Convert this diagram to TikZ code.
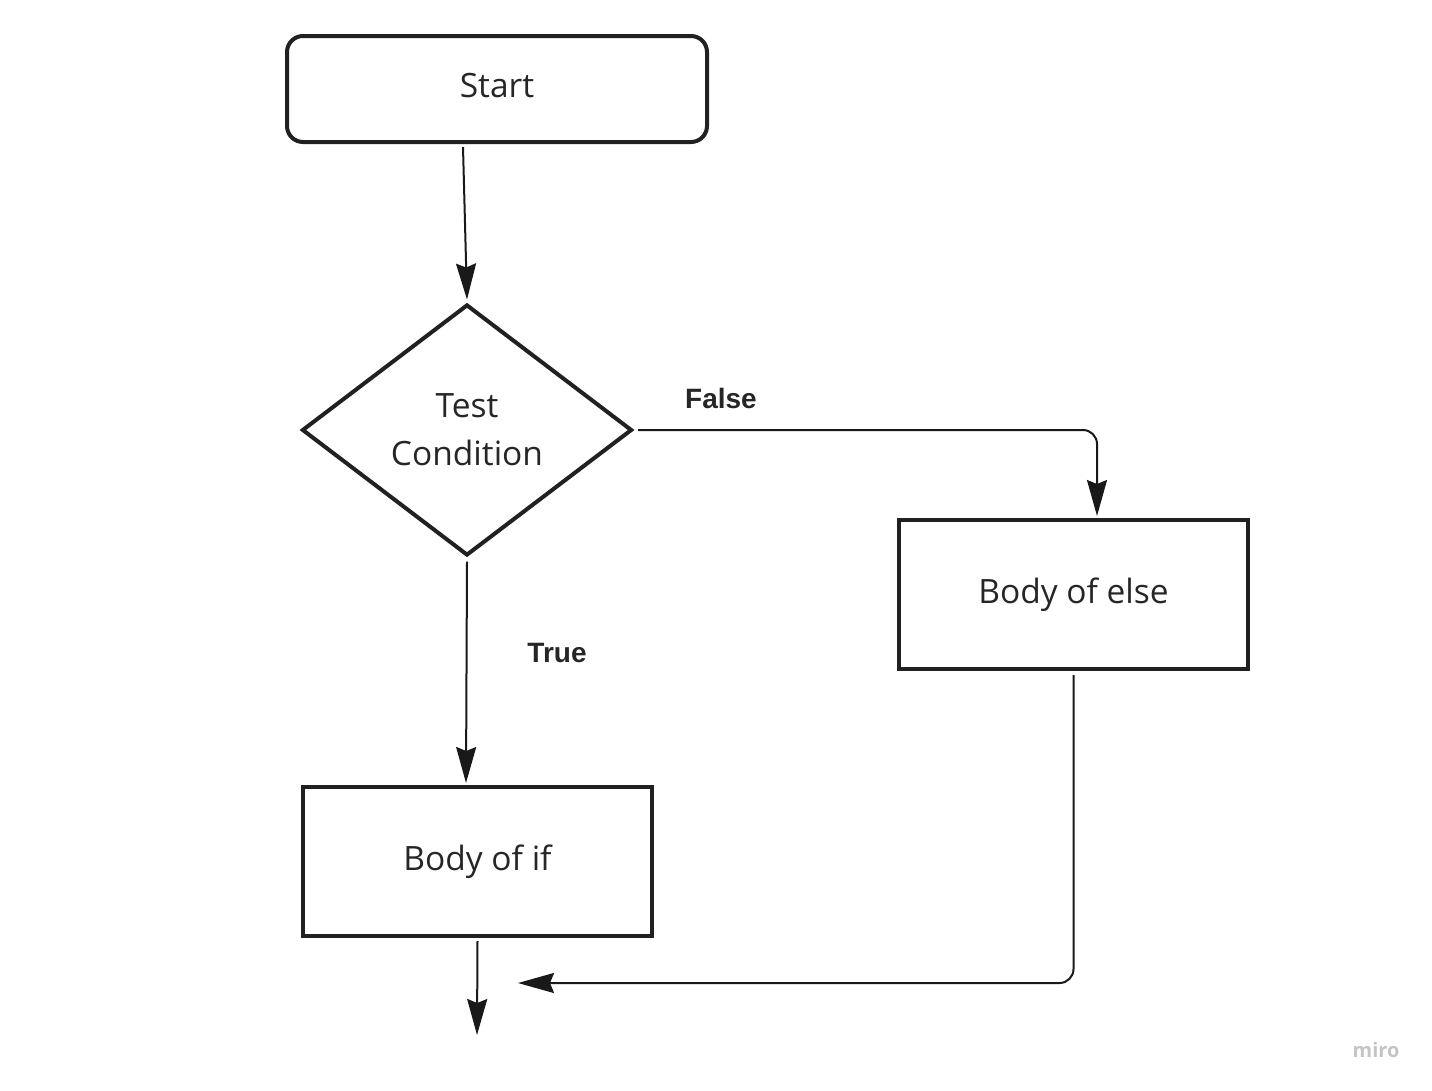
\documentclass[tikz,border=0pt]{standalone}
\usepackage{fontspec}
\setmainfont{Open Sans}
\newfontfamily\arialfont{Liberation Sans}
\usetikzlibrary{shapes.geometric,arrows.meta,positioning}

\begin{document}
\begin{tikzpicture}[x=1pt,y=-1pt,
        box/.style={draw=black!87,line width=4pt,minimum width=349pt,minimum height=149pt,
            text=black!85,font=\fontsize{33.5}{48}\selectfont},
        startbox/.style={box,rounded corners=16pt,minimum width=420pt,minimum height=106pt,text depth=8pt},
        decision/.style={box,diamond,minimum width=330pt,minimum height=251pt,inner sep=0pt,align=center},
        flow/.style={line width=2pt,draw=black!90,-{Stealth[length=36pt,width=20pt,inset=4pt]}},
        branch/.style={text=black!85,font=\arialfont\bfseries\fontsize{28}{32}\selectfont}]
        \useasboundingbox (0,0) rectangle (1432,1090);
        % the blocks
        \node[startbox] (start) at (497,89) {Start};
        \node[decision] (cond) at (467,430) {Test\\Condition};
        \node[box] (else) at (1073.5,594.5) {Body of else};
        \node[box] (if) at (477.5,861.5) {Body of if};
        \coordinate (merge) at (518,983);
        \coordinate (stop) at (477,1035);
        % the connectors
        \draw[flow] ([xshift=-34pt,yshift=-3pt]start.south) -- ([yshift=3pt]cond.north);
        \draw[flow,rounded corners=14pt] ([xshift=4pt]cond.east) -| ([xshift=23.5pt,yshift=2pt]else.north);
        \draw[flow] ([yshift=-4pt]cond.south) -- ([xshift=-11.5pt,yshift=2pt]if.north);
        \draw[flow,rounded corners=14pt] ([yshift=-4pt]else.south) |- (merge);
        \draw[flow] ([yshift=-3pt]if.south) -- (stop);
        % branch labels
        \node[branch] (falselbl) at (721,398) {False};
        \node[branch] (truelbl) at (557,653) {True};
        \node[text=black!23,font=\bfseries\fontsize{20}{22}\selectfont] (miro) at (1376,1050) {miro};
    \end{tikzpicture}
\end{document}
